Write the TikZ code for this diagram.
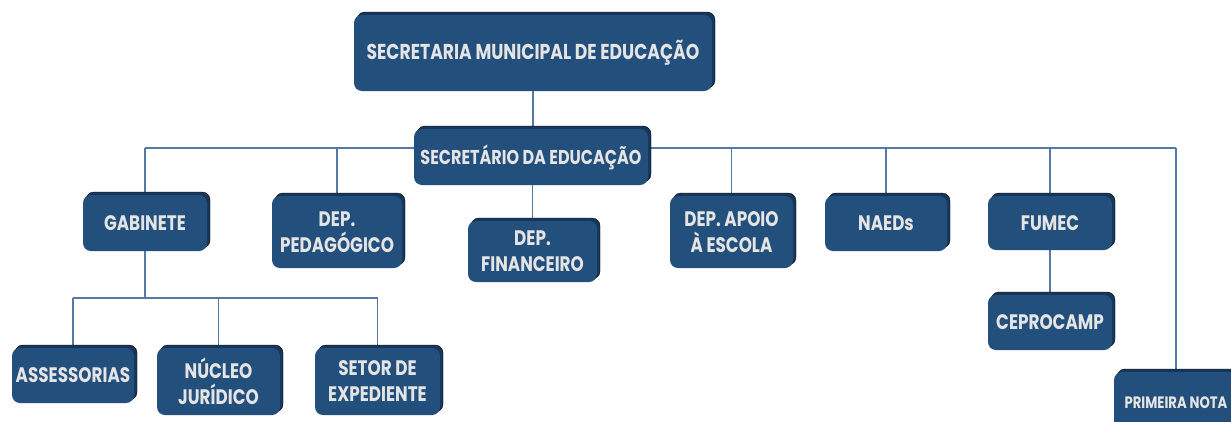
\documentclass[tikz,border=0pt]{standalone}
\usepackage{fontspec}
\setmainfont{Poppins}[FakeStretch=0.8]
\usetikzlibrary{shadows,backgrounds}
\definecolor{boxblue}{HTML}{234F7D}
\definecolor{boxdark}{HTML}{17375A}
\definecolor{linkblue}{HTML}{5479A5}
\definecolor{boxtext}{HTML}{E4E4E4}
\tikzset{
  orgbox/.style={rounded corners=8pt, fill=boxblue, text=boxtext, align=center,
    font=\bfseries\fontsize{21}{26}\selectfont, inner sep=0pt,
    copy shadow={shadow xshift=3pt, shadow yshift=3pt, fill=boxdark}},
  boxsize/.style 2 args={minimum width=#1, minimum height=#2},
  link/.style={draw=linkblue, line width=1.6pt}
}
\begin{document}
\begin{tikzpicture}[x=1pt, y=-1pt]
    \useasboundingbox (0,0) rectangle (1231,421);
    % top levels
    \node[orgbox, boxsize={358}{76}, font=\bfseries\fontsize{21.5}{26}\selectfont] (sme) at (533,53) {SECRETARIA MUNICIPAL DE EDUCAÇÃO};
    \node[orgbox, boxsize={234}{56}, font=\bfseries\fontsize{20}{24}\selectfont] (sec) at (531,157) {SECRETÁRIO DA EDUCAÇÃO};
    % departments
    \node[orgbox, boxsize={124}{56}] (gab) at (145,223) {GABINETE};
    \node[orgbox, boxsize={130}{72}] (ped) at (337,232) {DEP.\\PEDAGÓGICO};
    \node[orgbox, boxsize={129}{61}] (fin) at (532.5,251.5) {DEP.\\FINANCEIRO};
    \node[orgbox, boxsize={123}{72}] (apo) at (731.5,232) {DEP. APOIO\\À ESCOLA};
    \node[orgbox, boxsize={122}{55}] (nae) at (886,223.5) {NAEDs};
    \node[orgbox, boxsize={124}{54}] (fum) at (1050,223) {FUMEC};
    \node[orgbox, boxsize={124}{55}] (cep) at (1050,322.5) {CEPROCAMP};
    \node[orgbox, boxsize={124}{62}, font=\bfseries\fontsize{16.5}{20}\selectfont] (pri) at (1176,403) {PRIMEIRA NOTA};
    % gabinete
    \node[orgbox, boxsize={122}{55}] (ass) at (73,375.5) {ASSESSORIAS};
    \node[orgbox, boxsize={123}{67}] (nuc) at (218.5,381.5) {NÚCLEO\\JURÍDICO};
    \node[orgbox, boxsize={125}{67}] (set) at (377.5,381.5) {SETOR DE\\EXPEDIENTE};
    \begin{scope}[on background layer]
        \coordinate (bus) at (0,148);
        \coordinate (gbus) at (0,298);
        \draw[link] (sme.south) -- (sme.south |- sec.north);
        \draw[link] (gab.north |- bus) -- (pri.north |- bus);
        \foreach \n in {gab,ped,apo,nae,fum,pri}
            \draw[link] (\n.north |- bus) -- (\n.north);
        \draw[link] (fin.north |- sec.south) -- (fin.north);
        \draw[link] (fum) -- (cep);
        \draw[link] (gab.south) -- (gab.south |- gbus);
        \draw[link] (ass.north |- gbus) -- (set.north |- gbus);
        \foreach \n in {ass,nuc,set}
            \draw[link] (\n.north |- gbus) -- (\n.north);
    \end{scope}
\end{tikzpicture}
\end{document}
